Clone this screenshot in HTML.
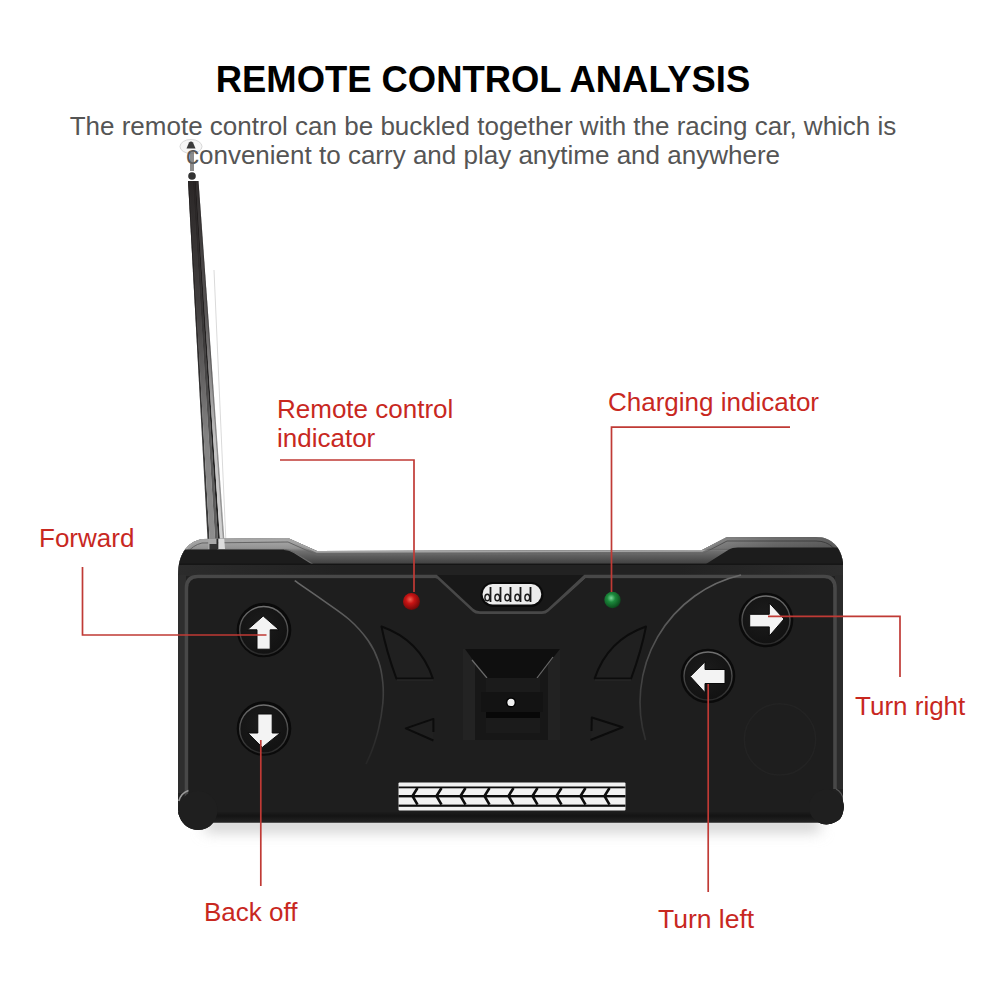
<!DOCTYPE html>
<html><head><meta charset="utf-8">
<style>
html,body{margin:0;padding:0;background:#fff;}
body{width:1001px;height:1001px;overflow:hidden;position:relative;font-family:"Liberation Sans",sans-serif;}
svg{position:absolute;left:0;top:0;}
</style></head>
<body>
<svg width="1001" height="1001" viewBox="0 0 1001 1001">
<defs>
  <filter id="blur" x="-10%" y="-200%" width="120%" height="500%"><feGaussianBlur stdDeviation="7"/></filter>
  <linearGradient id="shadow" x1="0" y1="0" x2="0" y2="1">
    <stop offset="0" stop-color="#bdbdbd"/>
    <stop offset="0.35" stop-color="#e6e6e6"/>
    <stop offset="1" stop-color="#ffffff" stop-opacity="0"/>
  </linearGradient>
  <radialGradient id="red" cx="0.42" cy="0.38" r="0.62">
    <stop offset="0" stop-color="#f06050"/>
    <stop offset="0.4" stop-color="#c81414"/>
    <stop offset="1" stop-color="#700808"/>
  </radialGradient>
  <radialGradient id="green" cx="0.42" cy="0.38" r="0.62">
    <stop offset="0" stop-color="#7ad898"/>
    <stop offset="0.4" stop-color="#1c8a3c"/>
    <stop offset="1" stop-color="#0b4a1c"/>
  </radialGradient>
  <linearGradient id="rod" x1="0" y1="0" x2="1" y2="0">
    <stop offset="0" stop-color="#4a4a4a"/>
    <stop offset="0.25" stop-color="#8c8c8c"/>
    <stop offset="0.5" stop-color="#6a6a6a"/>
    <stop offset="0.62" stop-color="#2a2a2a"/>
    <stop offset="0.75" stop-color="#d8d8d8"/>
    <stop offset="1" stop-color="#b0b0b0"/>
  </linearGradient>
  <linearGradient id="rodtop" x1="0" y1="0" x2="1" y2="0">
    <stop offset="0" stop-color="#2a2a2a"/>
    <stop offset="0.5" stop-color="#4a4444"/>
    <stop offset="0.8" stop-color="#1e1a1a"/>
    <stop offset="1" stop-color="#dddddd"/>
  </linearGradient>
  <linearGradient id="ring" x1="0" y1="0" x2="0" y2="1">
    <stop offset="0" stop-color="#707070"/>
    <stop offset="0.5" stop-color="#4a4a4a"/>
    <stop offset="1" stop-color="#2a2a2a"/>
  </linearGradient>
  <linearGradient id="topsurf" gradientUnits="userSpaceOnUse" x1="0" y1="537" x2="0" y2="565">
    <stop offset="0" stop-color="#b0b0b0"/>
    <stop offset="0.4" stop-color="#939393"/>
    <stop offset="0.5" stop-color="#707070"/>
    <stop offset="1" stop-color="#3c3c3c"/>
  </linearGradient>
  <linearGradient id="botband" gradientUnits="userSpaceOnUse" x1="0" y1="812" x2="0" y2="825">
    <stop offset="0" stop-color="#1c1c1c"/>
    <stop offset="0.3" stop-color="#141414"/>
    <stop offset="1" stop-color="#2a2a2a"/>
  </linearGradient>
  <linearGradient id="arcg" gradientUnits="userSpaceOnUse" x1="0" y1="578" x2="0" y2="765">
    <stop offset="0" stop-color="#6a6a6a"/>
    <stop offset="0.45" stop-color="#4a4a4a"/>
    <stop offset="1" stop-color="#252525"/>
  </linearGradient>
  <linearGradient id="rightdim" gradientUnits="userSpaceOnUse" x1="700" y1="0" x2="850" y2="0">
    <stop offset="0" stop-color="#000" stop-opacity="0.15"/>
    <stop offset="0.5" stop-color="#000" stop-opacity="0.35"/>
    <stop offset="1" stop-color="#000" stop-opacity="0.45"/>
  </linearGradient>
  <linearGradient id="bandg" gradientUnits="userSpaceOnUse" x1="170" y1="0" x2="850" y2="0">
    <stop offset="0" stop-color="#2c2c2c"/>
    <stop offset="0.25" stop-color="#222"/>
    <stop offset="0.75" stop-color="#222"/>
    <stop offset="1" stop-color="#2e2e2e"/>
  </linearGradient>
  <radialGradient id="btnface" cx="0.45" cy="0.4" r="0.6">
    <stop offset="0" stop-color="#1c1c1c"/>
    <stop offset="1" stop-color="#121212"/>
  </radialGradient>
</defs>

<!-- title -->
<text x="483" y="92" text-anchor="middle" font-family="Liberation Sans" font-weight="bold" font-size="36.4" fill="#000">REMOTE CONTROL ANALYSIS</text>
<text x="483" y="135" text-anchor="middle" font-family="Liberation Sans" font-size="26" fill="#555">The remote control can be buckled together with the racing car, which is</text>

<!-- antenna -->
<defs>
  <linearGradient id="rodv" x1="0" y1="0" x2="0" y2="1">
    <stop offset="0" stop-color="#2a2626"/>
    <stop offset="0.45" stop-color="#3a3636"/>
    <stop offset="0.8" stop-color="#7a7a7a"/>
    <stop offset="1" stop-color="#9a9a9a"/>
  </linearGradient>
  <linearGradient id="roddark" x1="0" y1="0" x2="0" y2="1">
    <stop offset="0" stop-color="#221e1e" stop-opacity="0.92"/>
    <stop offset="0.35" stop-color="#221e1e" stop-opacity="0.7"/>
    <stop offset="0.7" stop-color="#221e1e" stop-opacity="0.1"/>
    <stop offset="1" stop-color="#221e1e" stop-opacity="0"/>
  </linearGradient>
  <linearGradient id="rodhl" x1="0" y1="0" x2="0" y2="1">
    <stop offset="0" stop-color="#f4f4f4"/>
    <stop offset="0.5" stop-color="#e0e0e0"/>
    <stop offset="1" stop-color="#cfcfcf"/>
  </linearGradient>
</defs>
<path d="M188.00 181 L189.26 181 L210.04 548 L208.00 548 Z" fill="#3a3a3a"/>
<path d="M189.26 181 L192.72 181 L215.65 548 L210.04 548 Z" fill="#8e8e8e"/>
<path d="M192.72 181 L194.51 181 L218.54 548 L215.65 548 Z" fill="#5e5e5e"/>
<path d="M194.51 181 L195.77 181 L220.58 548 L218.54 548 Z" fill="#242424"/>
<path d="M195.77 181 L197.45 181 L223.30 548 L220.58 548 Z" fill="#d4d4d4"/>
<path d="M197.45 181 L198.50 181 L225.00 548 L223.30 548 Z" fill="#9a9a9a"/>
<path d="M188.00 181 L198.50 181 L225.00 548 L208.00 548 Z" fill="url(#roddark)"/>
<path d="M214 270 L226.2 548" stroke="#dadada" stroke-width="1" fill="none"/>
<ellipse cx="191" cy="146.5" rx="11" ry="7" fill="#f6f6f6" stroke="#d8d8d8" stroke-width="1"/>
<text x="483" y="164" text-anchor="middle" font-family="Liberation Sans" font-size="26" fill="#555">convenient to carry and play anytime and anywhere</text>
<path d="M186.5 148.5 L189 142.5 Q191 140.5 193 142.5 L195.5 148.5 Z" fill="#3a3a3a"/>
<rect x="190" y="151" width="4" height="20" fill="#666" opacity="0.75"/>
<circle cx="192" cy="176" r="3.8" fill="#333"/>

<!-- ground shadow -->
<rect x="205" y="818" width="615" height="14" fill="#d0d0d0" filter="url(#blur)"/>

<!-- body silhouette -->
<defs>
<clipPath id="bodyclip">
  <path d="M178 590 L178 575 C178 556 186 542 202 539 L288 538 L317 551 L702 550 L727 537 L816 537 C832 537 841 548 843 562 L843 810 Q843 820 834 822.5 L187 822.5 Q178 820 178 810 Z"/>
  <circle cx="198" cy="810.5" r="19.5"/>
  <circle cx="826.5" cy="807" r="17.5"/>
</clipPath>
</defs>
<g clip-path="url(#bodyclip)">
  <rect x="170" y="530" width="680" height="305" fill="#212121"/>
  <rect x="170" y="530" width="680" height="35" fill="url(#topsurf)"/>
  <path d="M178 575 C178 556 186 542 202 539 L288 538 L317 551 L702 550 L727 537 L816 537 C832 537 841 548 843 562" fill="none" stroke="#a4a4a4" stroke-width="3.4"/>
  <path d="M182 570 C182 558 189 546 202 543 L288 542 L317 555 L702 554 L727 541 L816 541 C830 541 838 550 840 562" fill="none" stroke="#666" stroke-width="1"/>
  <rect x="700" y="530" width="150" height="20" fill="url(#rightdim)"/>
  <!-- antenna base -->
  <path d="M208 549 L208.5 530 L217 530 L217 549 Z" fill="#a8a8a8"/>
  <path d="M216.5 530 L218.5 530 L218.5 549 L216.5 549 Z" fill="#2a2a2a"/>
  <path d="M218.5 530 L223.5 530 L225 549 L218.5 549 Z" fill="#dcdcdc"/>
  <rect x="209.5" y="544" width="8" height="6" fill="#333"/>
  <!-- ridge fronts -->
  <path d="M170 565 L170 549.5 L284 549.5 Q289 549.5 294 552.5 L314 565 Z" fill="#1c1c1c"/>
  <path d="M706 564 L729 549.5 Q732 547.5 738 547.5 L850 547.5 L850 564 Z" fill="#1c1c1c"/>
  <path d="M284 549.5 Q289 549.5 294 552.5 L314 565" fill="none" stroke="#6a6a6a" stroke-width="1.2"/>
  <!-- band -->
  <rect x="170" y="564" width="680" height="12" fill="url(#bandg)"/>
  <rect x="170" y="563.6" width="680" height="1.3" fill="#141414"/>
  <!-- side strips -->
  <rect x="170" y="575" width="16" height="218" fill="#2e2e2e"/>
  <rect x="835" y="575" width="15" height="214" fill="#2b2b2b"/>
  <path d="M430 575 L472 612 Q475 614 480 614 L542 614 Q546 614 548.5 611.5 L592 575 Z" fill="#181818"/>
  <!-- face rim -->
  <path d="M186.5 800 L186.5 588 Q186.5 576.5 198 576.5 L436 576.5 L472 610 Q475 613 480 613 L542 613 Q546 613 549 610 L585 576.5 L824 576.5 Q835 576.5 835 588 L835 789" fill="none" stroke="#484848" stroke-width="3.6"/>
  <!-- face fill -->
  <path d="M188.5 590 Q188.5 578.6 199 578.6 L437 578.6 L472.5 611.5 Q475 614 480 614 L542 614 Q546 614 548.5 611.5 L585.5 578.6 L823 578.6 Q833 578.6 833 590 L833 816 L188.5 816 Z" fill="#1e1e1e"/>
  <!-- bottom darker edge -->
  <rect x="170" y="812" width="680" height="23" fill="url(#botband)"/>
  <!-- feet -->
  <circle cx="198" cy="810.5" r="19.5" fill="#1f1f1f"/>
  <path d="M178.8 801 Q181 793 188.5 790.5" fill="none" stroke="#9a9a9a" stroke-width="1.6"/>
  <circle cx="826.5" cy="807" r="17.5" fill="#1f1f1f"/>
  <path d="M843.5 800 Q842 792 836 789" fill="none" stroke="#555" stroke-width="1.2"/>
</g>

<!-- arcs -->
<path d="M294.7 580.7 C299.2 583.9 312.9 593.1 322.0 599.6 C331.1 606.1 341.5 612.7 349.2 619.5 C356.9 626.3 363.2 633.5 368.1 640.5 C373.0 647.5 376.2 654.5 378.6 661.5 C381.1 668.5 382.1 675.5 382.8 682.5 C383.5 689.5 383.5 695.8 382.8 703.5 C382.1 711.2 380.4 720.9 378.6 728.6 C376.9 736.3 374.4 743.7 372.3 749.6 C370.2 755.5 367.1 761.6 366.0 764.0" fill="none" stroke="url(#arcg)" stroke-width="1.6"/>
<path d="M741 575 A131 131 0 0 0 645.5 740" fill="none" stroke="url(#arcg)" stroke-width="1.6"/>

<!-- wedges -->
<g fill="#202020" stroke="#0c0c0c" stroke-width="2" stroke-linejoin="round">
<path d="M381.5 626.5 Q420 640 432.8 678.4 L396.3 678.4 Q386 650 381.5 626.5 Z"/>
<path d="M646 626.5 Q607.5 640 594.7 678.4 L631.2 678.4 Q641.5 650 646 626.5 Z"/>
<path d="M433.4 732 L433.4 718.9 L405.8 728.4 L433.4 740.5"/>
<path d="M591.5 731 L591.8 717.5 L622.6 727.3 L590.5 740"/>
</g>
<path d="M397 680 L433 680" stroke="#2a2a2a" stroke-width="1"/>
<path d="M595 680 L631 680" stroke="#2a2a2a" stroke-width="1"/>
<!-- center slider -->
<rect x="463" y="649" width="97" height="91" fill="#171717"/>
<rect x="463" y="649" width="12" height="91" fill="#232323"/>
<rect x="548" y="649" width="12" height="91" fill="#222"/>
<path d="M465 649 L560 649 L537 678 L486 678 Z" fill="#0f0f0f"/>
<path d="M472 660 L487 678" stroke="#6a6a6a" stroke-width="1.2"/>
<path d="M553 657 L537 678" stroke="#6a6a6a" stroke-width="1.2"/>
<rect x="486" y="678" width="54" height="14" fill="#1b1b1b"/>
<rect x="481" y="692" width="62" height="20" fill="#131313"/>
<rect x="486" y="712" width="54" height="6" fill="#080808"/>
<rect x="486" y="718" width="54" height="15" fill="#1b1b1b"/>
<circle cx="511" cy="702.4" r="5" fill="#000"/>
<circle cx="511" cy="702.4" r="3.6" fill="#f0f0f0"/>

<!-- switch pill -->
<rect x="480.5" y="582" width="63" height="25" rx="12.5" fill="#0a0a0a"/>
<rect x="482.6" y="584" width="58.6" height="20.5" rx="10" fill="#ececec"/>
<g stroke="#1a1a1a" fill="none">
<line x1="490.5" y1="587" x2="490.5" y2="602" stroke-width="1.8"/><ellipse cx="487.3" cy="597.5" rx="2.4" ry="3.2" stroke-width="1.4"/>
<line x1="500.5" y1="587" x2="500.5" y2="602" stroke-width="1.8"/><ellipse cx="497.3" cy="597.5" rx="2.4" ry="3.2" stroke-width="1.4"/>
<line x1="510.5" y1="587" x2="510.5" y2="602" stroke-width="1.8"/><ellipse cx="507.3" cy="597.5" rx="2.4" ry="3.2" stroke-width="1.4"/>
<line x1="520.5" y1="587" x2="520.5" y2="602" stroke-width="1.8"/><ellipse cx="517.3" cy="597.5" rx="2.4" ry="3.2" stroke-width="1.4"/>
<line x1="530.5" y1="587" x2="530.5" y2="602" stroke-width="1.8"/><ellipse cx="527.3" cy="597.5" rx="2.4" ry="3.2" stroke-width="1.4"/>
</g>

<!-- LEDs -->
<circle cx="411.5" cy="601.5" r="8.5" fill="url(#red)"/>
<circle cx="612.5" cy="600" r="8.2" fill="url(#green)"/>

<!-- buttons -->
<g>
  <circle cx="264" cy="630" r="27.3" fill="#0a0a0a"/>
  <circle cx="263.7" cy="630.5" r="24" fill="url(#btnface)" stroke="url(#ring)" stroke-width="1.4"/>
  <path d="M263.2 616 L279 629.8 L270.2 629.8 L270.2 649.2 L257 649.2 L257 629.8 L247.5 629.8 Z" fill="#f3f3f3" stroke="#0a0a0a" stroke-width="1"/>
</g>
<g>
  <circle cx="264" cy="728.5" r="27.3" fill="#0a0a0a"/>
  <circle cx="263.7" cy="729" r="24" fill="url(#btnface)" stroke="url(#ring)" stroke-width="1.4"/>
  <path d="M262.3 747.4 L280.2 733 L272.2 733 L272.2 714 L257.8 714 L257.8 733 L247.9 733 Z" fill="#f3f3f3" stroke="#0a0a0a" stroke-width="1"/>
</g>
<g>
  <circle cx="766" cy="620" r="27.3" fill="#0a0a0a"/>
  <circle cx="766" cy="620" r="24" fill="url(#btnface)" stroke="url(#ring)" stroke-width="1.4"/>
  <path d="M784 619 L769.3 603 L769.3 614.3 L749.7 614.3 L749.7 626.9 L769.3 626.9 L769.3 636 Z" fill="#f3f3f3" stroke="#0a0a0a" stroke-width="1"/>
</g>
<g>
  <circle cx="708" cy="676" r="27.3" fill="#0a0a0a"/>
  <circle cx="708" cy="676" r="24" fill="url(#btnface)" stroke="url(#ring)" stroke-width="1.4"/>
  <path d="M690.3 676.5 L705 661.8 L705 669.5 L725 669.5 L725 683.5 L705 683.5 L705 692.6 Z" fill="#f3f3f3" stroke="#0a0a0a" stroke-width="1"/>
</g>

<!-- faint circle -->
<circle cx="780" cy="739.4" r="35.7" fill="none" stroke="#232323" stroke-width="1.5"/>

<!-- tread stripe -->
<rect x="398.5" y="782.5" width="227.0" height="28" fill="#f2f2f2" rx="1"/>
<g fill="#0d0d0d">
<rect x="398.5" y="786.5" width="227.0" height="1.8"/>
<rect x="398.5" y="795" width="227.0" height="2.4"/>
<rect x="398.5" y="804.6" width="227.0" height="2.2"/>
</g>
<g stroke="#0d0d0d" stroke-width="2.6" fill="none">
<path d="M417.5 788 L412.5 796 L417.5 804.6"/>
<path d="M441.5 788 L436.5 796 L441.5 804.6"/>
<path d="M465.5 788 L460.5 796 L465.5 804.6"/>
<path d="M489.5 788 L484.5 796 L489.5 804.6"/>
<path d="M513.5 788 L508.5 796 L513.5 804.6"/>
<path d="M537.5 788 L532.5 796 L537.5 804.6"/>
<path d="M561.5 788 L556.5 796 L561.5 804.6"/>
<path d="M585.5 788 L580.5 796 L585.5 804.6"/>
<path d="M609.5 788 L604.5 796 L609.5 804.6"/>
</g>

<!-- red callouts -->
<g fill="none" stroke="#c03a35" stroke-width="1.7">
  <path d="M82.5 567 L82.5 635 L266.5 635"/>
  <path d="M280 460 L414 460 L414 592"/>
  <path d="M611.5 592 L611.5 427.2 L790 427.2"/>
  <path d="M768 616.4 L900 616.4 L900 677"/>
  <path d="M260.8 740 L260.8 886"/>
  <path d="M708.2 684 L708.2 892"/>
</g>
<g font-family="Liberation Sans" font-size="26" fill="#c8281f">
  <text x="39" y="547">Forward</text>
  <text x="277" y="418">Remote control</text>
  <text x="277" y="447">indicator</text>
  <text x="608" y="411">Charging indicator</text>
  <text x="855" y="715">Turn right</text>
  <text x="204" y="921">Back off</text>
  <text x="658" y="928" font-size="26.5">Turn left</text>
</g>
</svg>
</body></html>
